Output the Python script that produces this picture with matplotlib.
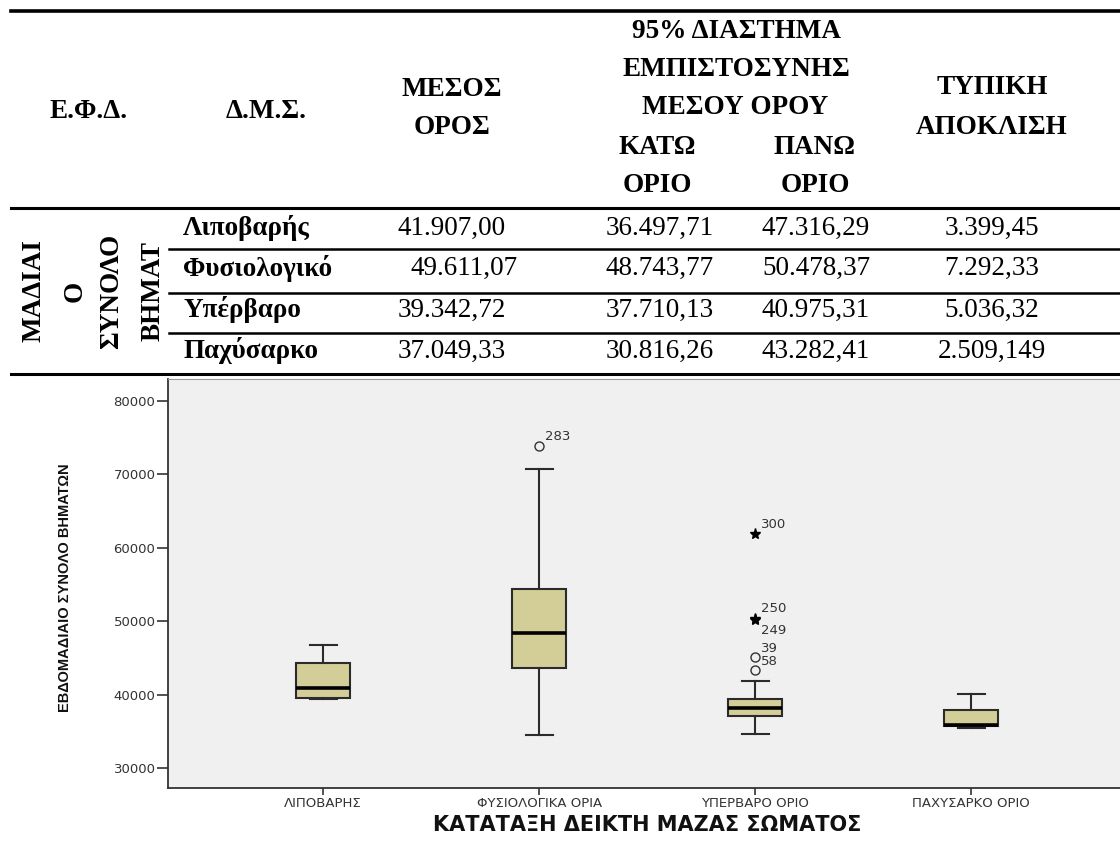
import numpy as np
import matplotlib.pyplot as plt
from matplotlib.lines import Line2D

W, H = 1120, 843

## table values (as printed)
bmi_rows = ['Λιποβαρής', 'Φυσιολογικό', 'Υπέρβαρο', 'Παχύσαρκο']
mean_vals = ['41.907,00', '49.611,07', '39.342,72', '37.049,33']
ci_low = ['36.497,71', '48.743,77', '37.710,13', '30.816,26']
ci_high = ['47.316,29', '50.478,37', '40.975,31', '43.282,41']
std_dev = ['3.399,45', '7.292,33', '5.036,32', '2.509,149']
row_label = ['ΜΑΔΙΑΙ', 'Ο', 'ΣΥΝΟΛΟ', 'ΒΗΜΑΤ']

## boxplot values
bmi_groups = ['ΛΙΠΟΒΑΡΗΣ', 'ΦΥΣΙΟΛΟΓΙΚΑ ΟΡΙΑ', 'ΥΠΕΡΒΑΡΟ ΟΡΙΟ', 'ΠΑΧΥΣΑΡΚΟ ΟΡΙΟ']
whisk_lo = [39390, 34490, 34630, 35440]
q1 = [39480, 43560, 37070, 35670]
med = [40840, 48410, 38230, 35850]
q3 = [44330, 54350, 39350, 37920]
whisk_hi = [46735, 70680, 41840, 40030]
# outliers (circles) and extremes (stars): group index, value, case id
out_group = [1, 2, 2]
out_vals = [73850, 45060, 43290]
out_ids = ['283', '39', '58']
ext_group = [2, 2, 2]
ext_vals = [61790, 50300, 50200]
ext_ids = ['300', '250', '249']

fig = plt.figure(figsize=(W / 100, H / 100), dpi=100)

def fx(px):
    return px / W

def fy(py):
    return 1 - py / H

def hline(y, x0, x1, lw):
    fig.add_artist(Line2D([fx(x0), fx(x1)], [fy(y), fy(y)], color='black',
                          lw=lw, transform=fig.transFigure))

def ttext(x, y, s, bold=True, ha='center', rot=0):
    fig.text(fx(x), fy(y), s, ha=ha, va='center', rotation=rot,
             family='Liberation Serif', fontsize=19.5,
             fontweight='bold' if bold else 'normal')

########  table  #############
hline(11, 11, W, 2.6)
hline(208, 11, W, 2.2)
hline(249, 169, W, 1.8)
hline(293, 169, W, 1.8)
hline(333, 169, W, 1.8)
hline(374, 11, W, 2.2)

ttext(89, 112, 'Ε.Φ.Δ.')
ttext(266, 112, 'Δ.Μ.Σ.')
ttext(452, 89, 'ΜΕΣΟΣ')
ttext(452, 127, 'ΟΡΟΣ')
ttext(736, 32, '95% ΔΙΑΣΤΗΜΑ')
ttext(736, 70, 'ΕΜΠΙΣΤΟΣΥΝΗΣ')
ttext(735, 108, 'ΜΕΣΟΥ ΟΡΟΥ')
ttext(657, 147, 'ΚΑΤΩ')
ttext(657, 185, 'ΟΡΙΟ')
ttext(815, 147, 'ΠΑΝΩ')
ttext(815, 185, 'ΟΡΙΟ')
ttext(992, 88, 'ΤΥΠΙΚΗ')
ttext(992, 127, 'ΑΠΟΚΛΙΣΗ')

for s, x in zip(row_label, [34, 75, 112, 153]):
    ttext(x, 291, s, rot=90)

row_y = [228, 268, 310, 351]
for i, y in enumerate(row_y):
    ttext(183, y, bmi_rows[i], ha='left')
    ttext(452 if i != 1 else 464, y, mean_vals[i], bold=False)
    ttext(660, y, ci_low[i], bold=False)
    ttext(816, y, ci_high[i], bold=False)
    ttext(992, y, std_dev[i], bold=False)

########  boxplot  #############
ax = fig.add_axes([fx(168), fy(788), (1127 - 168) / W, (788 - 379) / H])
ax.set_facecolor('#f0f0f0')

stats = []
for i in range(len(bmi_groups)):
    stats.append(dict(med=med[i], q1=q1[i], q3=q3[i], whislo=whisk_lo[i],
                      whishi=whisk_hi[i], fliers=[]))
pos = np.arange(len(bmi_groups))
ax.bxp(stats, positions=pos, widths=0.25, patch_artist=True, showfliers=False,
       boxprops=dict(facecolor='#d3ce97', edgecolor='#2b2b2b', lw=1.5),
       medianprops=dict(color='black', lw=2.6),
       whiskerprops=dict(color='#2b2b2b', lw=1.5),
       capprops=dict(color='#2b2b2b', lw=1.5), capwidths=0.125)

ax.plot(np.array(out_group), out_vals, 'o', ms=6.5, mfc='none', mec='#333333', mew=1)
ax.plot(np.array(ext_group), ext_vals, '*', ms=8, color='black')

for g, v, s in zip(out_group, out_vals, out_ids):
    ax.annotate(s, (g, v), xytext=(4, 6.5), textcoords='offset points',
                fontsize=9.5, color='#333333', va='center')
for g, v, s in zip(ext_group, ext_vals, ext_ids):
    dy = -8 if s == '249' else 7.5
    ax.annotate(s, (g, v), xytext=(4, dy), textcoords='offset points',
                fontsize=9.5, color='#333333', va='center')

ax.set_xlim(-0.718, 3.722)
ax.set_ylim(27280, 82950)
ax.set_yticks([30000, 40000, 50000, 60000, 70000, 80000])
ax.set_xticks(pos)
ax.set_xticklabels(bmi_groups)
ax.tick_params(axis='y', length=8, width=1.2, pad=1, labelsize=9.5, colors='#333333')
ax.tick_params(axis='x', length=5, width=1.2, pad=1.5, labelsize=9.5, colors='#333333')

for side in ['left', 'bottom']:
    ax.spines[side].set_color('#333333')
    ax.spines[side].set_linewidth(1.3)
ax.spines['top'].set_color('#999999')
ax.spines['right'].set_visible(False)

ax.set_ylabel('ΕΒΔΟΜΑΔΙΑΙΟ ΣΥΝΟΛΟ ΒΗΜΑΤΩΝ', family='Liberation Sans',
              fontsize=10.5, fontweight='bold', color='#111111')
ax.yaxis.set_label_coords((72 - 168) / 959, 0.49)
ax.set_xlabel('ΚΑΤΑΤΑΞΗ ΔΕΙΚΤΗ ΜΑΖΑΣ ΣΩΜΑΤΟΣ', fontsize=15, fontweight='bold',
              color='#111111')
ax.xaxis.set_label_coords((647 - 168) / 959, -(815 - 788) / 409)

fig.savefig('out.png', dpi=100)
